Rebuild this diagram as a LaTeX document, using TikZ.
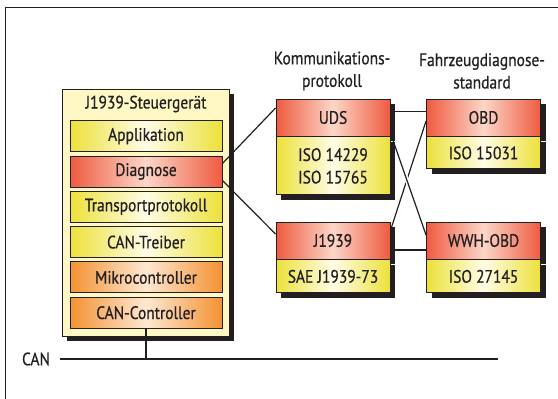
\documentclass[tikz,border=0pt]{standalone}
\usepackage{fontspec}
\setmainfont[FakeStretch=0.86,FakeBold=0.6]{PT Sans}
\usetikzlibrary{positioning,shadows,backgrounds}
\definecolor{lineclr}{HTML}{231F20}
\definecolor{ylw}{HTML}{ECE13A}
\definecolor{ylwmid}{HTML}{FFFCE6}
\definecolor{rd}{HTML}{EE5B40}
\definecolor{rdmid}{HTML}{FCD6C8}
\definecolor{orng}{HTML}{F39232}
\definecolor{orngmid}{HTML}{FDE8D2}
\definecolor{ecufill}{HTML}{FFF8C4}
\tikzset{
  txt/.style={text=lineclr,font=\fontsize{18}{22.5}\selectfont,align=center},
  layer/.style={txt,draw=lineclr,line width=0.9pt,minimum width=152pt,minimum height=31pt,inner sep=0pt},
  ylwbox/.style={layer,left color=ylw,right color=ylw,middle color=ylwmid},
  redbox/.style={layer,left color=rd,right color=rd,middle color=rdmid},
  orngbox/.style={layer,left color=orng,right color=orng,middle color=orngmid},
  shd/.style={drop shadow={shadow xshift=5pt,shadow yshift=-5pt,fill=lineclr,opacity=1}},
  conn/.style={draw=lineclr,line width=1.2pt}
}
\begin{document}
\begin{tikzpicture}[x=1pt,y=-1pt]
\useasboundingbox (0,0) rectangle (558,399);
\draw[lineclr,line width=0.8pt] (5,399) -- (5,7) -- (558,7);

\node[draw=lineclr,line width=0.9pt,fill=ecufill,shd,minimum width=167pt,minimum height=247pt] (ecu) at (145.5,212.8) {};
\node[txt] (ecutitle) at (146,104) {J1939-Steuerger\"at};
\node[ylwbox] (app) at (146,136.2) {Applikation};
\node[redbox,below=3.4pt of app] (diag) {Diagnose};
\node[ylwbox,below=3.4pt of diag] (tp) {Transportprotokoll};
\node[ylwbox,below=3.4pt of tp] (cantr) {CAN-Treiber};
\node[orngbox,below=3.4pt of cantr] (mc) {Mikrocontroller};
\node[orngbox,below=3.4pt of mc] (canc) {CAN-Controller};

\node[txt] (kommhead) at (332,71) {Kommunikations-\\protokoll};
\node[txt] (fzghead) at (482,71) {Fahrzeugdiagnose-\\standard};

\node[redbox,shd,minimum width=114pt,minimum height=37pt] (uds) at (333,117.5) {UDS};
\node[ylwbox,shd,minimum width=114pt,minimum height=58pt,below=0pt of uds] (udsiso) {ISO 14229\\ISO 15765};
\node[redbox,shd,minimum width=114pt,minimum height=37pt] (j1939) at (333,240.5) {J1939};
\node[ylwbox,shd,minimum width=114pt,minimum height=33pt,below=0pt of j1939] (sae) {SAE J1939-73};
\node[redbox,shd,minimum width=114pt,minimum height=37pt] (obd) at (483.5,117.5) {OBD};
\node[ylwbox,shd,minimum width=114pt,minimum height=32pt,below=0pt of obd] (obdiso) {ISO 15031};
\node[redbox,shd,minimum width=114pt,minimum height=37pt] (wwh) at (483.5,240.5) {WWH-OBD};
\node[ylwbox,shd,minimum width=114pt,minimum height=33pt,below=0pt of wwh] (wwhiso) {ISO 27145};

\node[txt] (canlbl) at (36,359) {CAN};
\coordinate (busl) at (60,359);
\coordinate (busr) at (498,359);
\coordinate (tap) at (146,359);

\draw[conn] ([yshift=8pt]diag.east) -- ([yshift=9.5pt]uds.west);
\draw[conn] ([yshift=-9pt]diag.east) -- ([yshift=6.5pt]j1939.west);
\begin{scope}[on background layer]
\draw[conn] ([yshift=6pt]uds.east) -- ([yshift=6pt]obd.west);
\draw[conn] ([yshift=-9.5pt]j1939.east) -- ([yshift=-9.5pt]wwh.west);
\draw[conn] ([yshift=10pt]j1939.east) -- ([yshift=-3.5pt]obd.west);
\draw[conn,preaction={draw=white,line width=4pt}] ([yshift=-15.5pt]uds.east) -- ([yshift=5.5pt]wwh.west);
\end{scope}
\draw[lineclr,line width=1.8pt] (busl) -- (busr);
\draw[lineclr,line width=1.2pt] (canc.south) -- (tap);
\end{tikzpicture}
\end{document}
